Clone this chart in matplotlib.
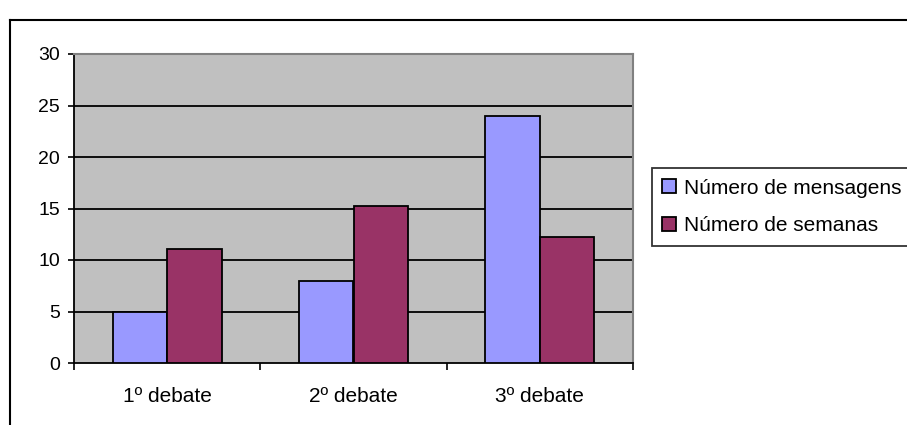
import matplotlib.pyplot as plt
from matplotlib.lines import Line2D
import numpy as np

plt.rcParams['font.family'] = ['Liberation Sans', 'DejaVu Sans']

categories = ["1º debate", "2º debate", "3º debate"]
mensagens = [5, 8, 24]
semanas = [11.1, 15.2, 12.2]
series_names = ["Número de mensagens", "Número de semanas"]
yticks = [0, 5, 10, 15, 20, 25, 30]

W, H = 907, 425
fig = plt.figure(figsize=(W / 100, H / 100), dpi=100)

# outer chart frame (cut off at right and bottom)
fig.add_artist(Line2D([10 / W, 10 / W], [0, 1 - 20 / H], color='black', lw=1.5,
                      transform=fig.transFigure))
fig.add_artist(Line2D([10 / W, 1], [1 - 20 / H, 1 - 20 / H], color='black', lw=1.5,
                      transform=fig.transFigure))

left, right, top, bottom = 74, 633, 54, 363
ax = fig.add_axes([left / W, 1 - bottom / H, (right - left) / W, (bottom - top) / H])
ax.set_facecolor('#C0C0C0')

x = np.arange(len(categories))
bw = 0.293
ax.bar(x - bw / 2, mensagens, bw, color='#9999FF', edgecolor='black', lw=1.3,
       label=series_names[0], zorder=3)
ax.bar(x + bw / 2, semanas, bw, color='#993366', edgecolor='black', lw=1.3,
       label=series_names[1], zorder=3)

ax.set_xlim(-0.5, len(categories) - 0.5)
ax.set_ylim(0, 30)
ax.set_yticks(yticks)
for v in yticks[1:]:
    ax.axhline(v, color='black', lw=1.3, zorder=1)

ax.set_xticks(np.arange(len(categories) + 1) - 0.5)
ax.set_xticklabels([])
ax.set_xticks(x, minor=True)
ax.set_xticklabels(categories, minor=True)
ax.tick_params(axis='x', which='major', direction='out', length=5, width=1.2)
ax.tick_params(axis='x', which='minor', length=0, pad=17, labelsize=15)
ax.tick_params(axis='y', direction='out', length=4, width=1.2, pad=6, labelsize=14)

for s in ['left', 'bottom']:
    ax.spines[s].set_color('black')
    ax.spines[s].set_linewidth(1.3)
for s in ['top', 'right']:
    ax.spines[s].set_color('#808080')
    ax.spines[s].set_linewidth(1.5)

leg = fig.legend(loc='center left', bbox_to_anchor=(652 / W, 1 - 207 / H),
                 fontsize=15, frameon=True, fancybox=False, edgecolor='black',
                 handlelength=0.65, handleheight=0.65, handletextpad=0.38,
                 borderpad=0.5, labelspacing=0.9, borderaxespad=0)
leg.get_frame().set_linewidth(1.3)

fig.savefig('out.png', dpi=100)
